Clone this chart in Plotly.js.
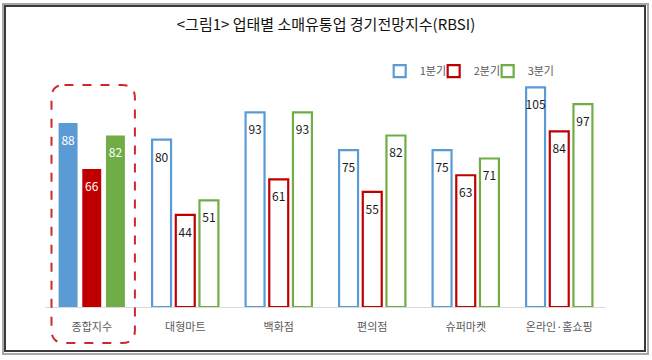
<!DOCTYPE html>
<html>
<head>
<meta charset="utf-8">
<script src="https://cdn.plot.ly/plotly-3.0.1.min.js"></script>
<style>
  html, body { margin: 0; padding: 0; background: #fff; }
  #wrap { position: relative; width: 652px; height: 360px; }
  #chart { position: absolute; left: 0; top: 0; width: 652px; height: 360px; }
  .frame1 { position: absolute; left: 2px; top: 3px; width: 647px; height: 352px; box-sizing: border-box; border: 2px solid #a8a8a8; pointer-events: none; }
  .frame2 { position: absolute; left: 4px; top: 5px; width: 642px; height: 347px; box-sizing: border-box; border: 2px solid #3a3a3a; pointer-events: none; }
</style>
</head>
<body>
<div id="wrap">
  <div id="chart"></div>
  <div class="frame1"></div>
  <div class="frame2"></div>
</div>
<script>
// ---- data ----
var categories = ['종합지수', '대형마트', '백화점', '편의점', '슈퍼마켓', '온라인·홈쇼핑'];
var seriesNames = ['1분기', '2분기', '3분기'];
var q1 = [88, 80, 93, 75, 75, 105];
var q2 = [66, 44, 61, 55, 63, 84];
var q3 = [82, 51, 93, 82, 71, 97];
var titleText = '&lt;그림1&gt; 업태별 소매유통업 경기전망지수(RBSI)';

// ---- styles ----
var colors = ['#5B9BD5', '#C00000', '#70AD47'];
var series = [q1, q2, q3];
var FONT = 'Noto Sans CJK KR, Noto Sans, sans-serif';
var legendIds = ['legend2', 'legend3', 'legend4'];
var legendX = [0.5966, 0.6928, 0.7890];

var traces = [];
series.forEach(function (vals, i) {
  // filled bar for the overall index (first category)
  traces.push({
    type: 'bar',
    x: categories.slice(0, 1),
    y: vals.slice(0, 1),
    name: seriesNames[i],
    offsetgroup: 'q' + i,
    marker: { color: colors[i], line: { width: 0 } },
    showlegend: false,
    hoverinfo: 'skip'
  });
  // outlined bars for the other categories
  traces.push({
    type: 'bar',
    x: categories.slice(1),
    y: vals.slice(1),
    name: seriesNames[i],
    offsetgroup: 'q' + i,
    legend: legendIds[i],
    marker: { color: '#ffffff', line: { color: colors[i], width: 2.2 } },
    showlegend: true,
    hoverinfo: 'skip'
  });
});
// value labels
series.forEach(function (vals, i) {
  traces.push({
    type: 'scatter',
    mode: 'markers+text',
    x: categories,
    y: vals,
    text: vals.map(String),
    textposition: 'bottom center',
    textfont: { family: FONT, size: 12, color: vals.map(function (v, k) { return k === 0 ? '#ffffff' : '#1a1a1a'; }) },
    marker: { size: 19, color: 'rgba(0,0,0,0)' },
    offsetgroup: 'q' + i,
    showlegend: false,
    hoverinfo: 'skip',
    cliponaxis: false
  });
});

// plot geometry helpers for the dashed highlight box
var L = 45, R = 45.5, T = 56, B = 53, W = 652, H = 360;
var pw = W - L - R, ph = H - T - B;
function px(x) { return (x - L) / pw; }
function py(y) { return (H - B - y) / ph; }
function roundRect(l, t, r2, b, rad) {
  return 'M' + px(l + rad) + ',' + py(t) +
    ' L' + px(r2 - rad) + ',' + py(t) +
    ' Q' + px(r2) + ',' + py(t) + ' ' + px(r2) + ',' + py(t + rad) +
    ' L' + px(r2) + ',' + py(b - rad) +
    ' Q' + px(r2) + ',' + py(b) + ' ' + px(r2 - rad) + ',' + py(b) +
    ' L' + px(l + rad) + ',' + py(b) +
    ' Q' + px(l) + ',' + py(b) + ' ' + px(l) + ',' + py(b - rad) +
    ' L' + px(l) + ',' + py(t + rad) +
    ' Q' + px(l) + ',' + py(t) + ' ' + px(l + rad) + ',' + py(t) + ' Z';
}

function legendStyle(x) {
  return {
    orientation: 'h',
    x: x, xanchor: 'left',
    y: 0.94, yanchor: 'middle',
    font: { family: FONT, size: 11, color: '#595959' },
    bgcolor: 'rgba(0,0,0,0)'
  };
}

var layout = {
  width: W, height: H,
  margin: { l: L, r: R, t: T, b: B },
  paper_bgcolor: '#ffffff',
  plot_bgcolor: '#ffffff',
  font: { family: FONT, size: 11, color: '#595959' },
  title: {
    text: titleText,
    x: 0.5, xref: 'container', xanchor: 'center',
    y: 0.932, yref: 'container', yanchor: 'middle',
    font: { family: FONT, size: 15, color: '#111111' }
  },
  barmode: 'group',
  bargap: 0.24,
  bargroupgap: 0.2,
  scattermode: 'group',
  scattergap: 0.24,
  xaxis: {
    type: 'category',
    categoryorder: 'array',
    categoryarray: categories,
    showline: true, linecolor: '#d9d9d9', linewidth: 1,
    showgrid: false, zeroline: false, ticks: '',
    ticklabelstandoff: 10,
    tickfont: { family: FONT, size: 11, color: '#595959' },
    fixedrange: true
  },
  yaxis: {
    range: [0, 120],
    visible: false,
    showgrid: false, zeroline: false, showticklabels: false,
    fixedrange: true
  },
  legend2: legendStyle(legendX[0]),
  legend3: legendStyle(legendX[1]),
  legend4: legendStyle(legendX[2]),
  shapes: [{
    type: 'path',
    xref: 'paper', yref: 'paper',
    path: roundRect(51.5, 85, 135, 343, 13),
    line: { color: '#cc2a2a', width: 2, dash: 'dash' },
    fillcolor: 'rgba(0,0,0,0)',
    layer: 'above'
  }],
  showlegend: true
};

Plotly.newPlot('chart', traces, layout, { displayModeBar: false, staticPlot: true });
</script>
</body>
</html>
